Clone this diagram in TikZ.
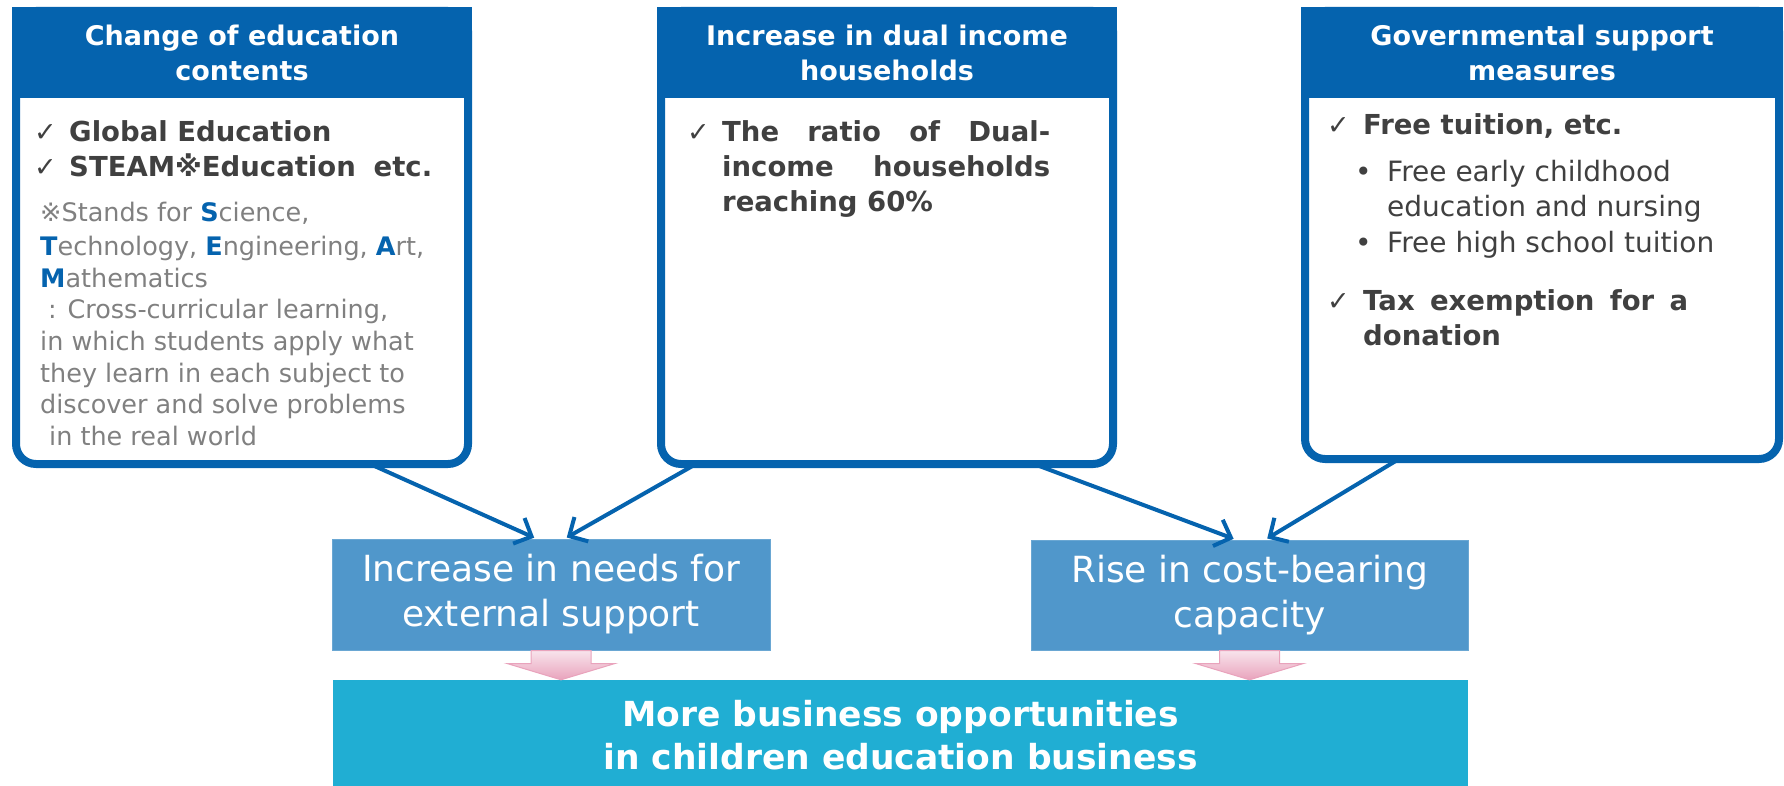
\documentclass[tikz,border=0pt]{standalone}
\usepackage{fontspec}
\setmainfont{DejaVu Sans}
\usetikzlibrary{arrows.meta,calc}

\definecolor{edublue}{HTML}{0563AE}
\definecolor{midblue}{HTML}{5097CB}
\definecolor{cyanbox}{HTML}{20AED3}
\definecolor{darktxt}{HTML}{404040}
\definecolor{notegray}{HTML}{808080}
\definecolor{pinklo}{HTML}{E9A3BC}
\definecolor{pinkhi}{HTML}{F8E4EC}

\newcommand\stemletter[1]{\textcolor{edublue}{\textbf{#1}}}

\tikzset{
  topbox/.style={draw=edublue, line width=8pt, rounded corners=20pt, inner sep=0pt, outer sep=0pt},
  head/.style={fill=edublue, text=white, anchor=north, align=center, inner sep=0pt, minimum height=91pt,
    font=\fontsize{27}{35}\selectfont\bfseries},
  chk/.style={anchor=base west, inner sep=0pt, text=darktxt, font=\fontsize{27}{30}\selectfont},
  boldline/.style={anchor=base west, inner sep=0pt, text=darktxt, font=\fontsize{27.5}{33}\selectfont\bfseries},
  noteline/.style={anchor=base west, inner sep=0pt, text=notegray, font=\fontsize{25.5}{30}\selectfont},
  plainline/.style={anchor=base west, inner sep=0pt, text=darktxt, font=\fontsize{28}{33}\selectfont},
  midbox/.style={fill=midblue, draw=midblue!85!white, line width=1pt, text=white, align=center, inner sep=0pt,
    font=\fontsize{36}{45}\selectfont},
  flow/.style={draw=edublue, line width=4pt, -{Straight Barb[length=14pt,width=28pt]}, shorten >=2pt},
  pinkarrow/.style={top color=pinkhi, bottom color=pinklo, draw=pinklo, line width=1pt}
}

\begin{document}
\begin{tikzpicture}[x=1pt,y=-1pt]
  \useasboundingbox (0,0) rectangle (1784,786);

  % three boxes on top
  \node[topbox, minimum width=452pt, minimum height=453pt] (edu) at (242,237.5) {};
  \node[topbox, minimum width=452pt, minimum height=453pt] (dual) at (887,237.5) {};
  \node[topbox, minimum width=474pt, minimum height=448pt] (gov) at (1542,235) {};
  \node[head, minimum width=460pt] (edu-head) at ([yshift=4pt]edu.north) {Change of education\\contents};
  \node[head, minimum width=460pt] (dual-head) at ([yshift=4pt]dual.north) {Increase in dual income\\households};
  \node[head, minimum width=482pt] (gov-head) at ([yshift=4pt]gov.north) {Governmental support\\measures};

  % education contents
  \node[chk] (edu-c1) at (34,142) {✓};
  \node[chk] (edu-c2) at (34,177) {✓};
  \node[boldline] (edu-b1) at (69,142) {Global Education};
  \node[boldline] (edu-b2) at (69,177) {STEAM※Education\hspace{0.3em} etc.};
  \foreach \x/\y/\txt [count=\i] in {
      40/222/{※Stands for \stemletter{S}cience,},
      40/255/{\stemletter{T}echnology, \stemletter{E}ngineering, \stemletter{A}rt,},
      40/287/{\stemletter{M}athematics},
      48/318/{: Cross-curricular learning,},
      40/350/{in which students apply what},
      40/382/{they learn in each subject to},
      40/413/{discover and solve problems},
      49/445/{in the real world}}
    \node[noteline] (edu-n\i) at (\x,\y) {\txt};

  % dual income
  \node[chk] (dual-c1) at (687,142) {✓};
  \node[boldline] (dual-b1) at (722,142) {\makebox[328pt][s]{The ratio of Dual-}};
  \node[boldline] (dual-b2) at (722,177) {\makebox[328pt][s]{income households}};
  \node[boldline] (dual-b3) at (722,212) {reaching 60\%};

  % governmental support
  \node[chk] (gov-c1) at (1327,135) {✓};
  \node[boldline] (gov-b1) at (1363,135) {Free tuition, etc.};
  \node[plainline] (gov-d1) at (1355,182) {•};
  \node[plainline] (gov-d2) at (1355,252) {•};
  \node[plainline] (gov-p1) at (1387,182) {Free early childhood};
  \node[plainline] (gov-p2) at (1387,217) {education and nursing};
  \node[plainline] (gov-p3) at (1387,252) {Free high school tuition};
  \node[chk] (gov-c2) at (1327,310) {✓};
  \node[boldline] (gov-b2) at (1363,310) {\makebox[325pt][s]{Tax exemption for a}};
  \node[boldline] (gov-b3) at (1363,345) {donation};

  % effects
  \node[midbox, minimum width=438pt, minimum height=111pt] (needs) at (551,594.5) {Increase in needs for\\external support};
  \node[midbox, minimum width=437pt, minimum height=110pt] (cost) at (1249.5,595) {Rise in cost-bearing\\capacity};
  \node[fill=cyanbox, text=white, align=center, inner sep=0pt, minimum width=1135pt, minimum height=110pt,
    font=\fontsize{34.5}{43}\selectfont\bfseries] (more) at (900.5,735) {More business opportunities\\in children education business};

  \draw[flow] ([xshift=128pt]edu.south) -- ([xshift=-15pt]needs.north);
  \draw[flow] ([xshift=-191pt]dual.south) -- ([xshift=14pt]needs.north);
  \draw[flow] ([xshift=147pt]dual.south) -- ([xshift=-14pt]cost.north);
  \draw[flow] ([xshift=-143pt]gov.south) -- ([xshift=16pt]cost.north);

  \foreach \src/\dx in {needs/10, cost/0}
    \shade[pinkarrow] ($(\src.south)+(\dx-30,0)$) -- ++(0,13) -- ++(-24,0)
      -- ($(\src.south |- more.north)+(\dx,0)$) -- ($(\src.south)+(\dx+54,13)$)
      -- ++(-24,0) -- ($(\src.south)+(\dx+30,0)$) -- cycle;
\end{tikzpicture}
\end{document}
